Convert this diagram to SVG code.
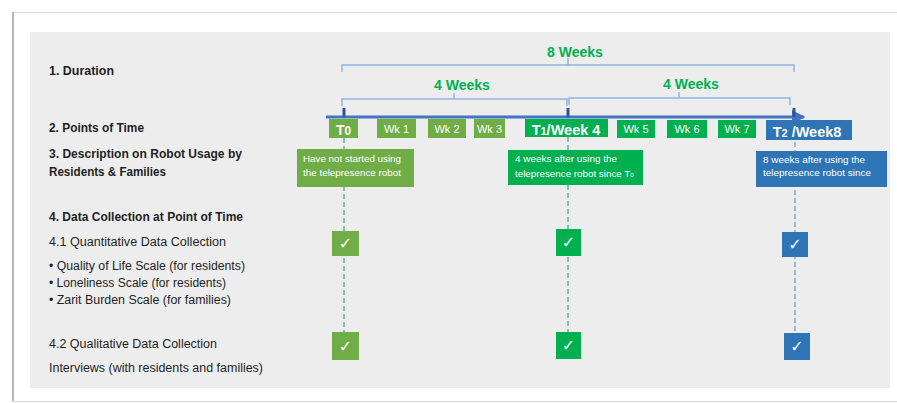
<svg xmlns="http://www.w3.org/2000/svg" width="897" height="403" viewBox="0 0 897 403">
<defs>
<style>
.lbl{font-family:"Liberation Sans",Arial,sans-serif;font-size:12px;fill:#1f1f1f}
.b{font-weight:bold}
.wk{font-family:"Liberation Sans",Arial,sans-serif;font-size:14px;font-weight:bold;fill:#00B050;text-anchor:middle}
.bt{font-family:"Liberation Sans",Arial,sans-serif;fill:#ffffff;text-anchor:middle}
.dt{font-family:"Liberation Sans",Arial,sans-serif;font-size:9.8px;fill:#ffffff}
.ck{font-family:"DejaVu Sans",sans-serif;font-size:16px;fill:#ffffff;text-anchor:middle}
.olive{fill:#70AD47}
.green{fill:#00B050}
.blue{fill:#2E75B6}
.br{fill:none;stroke:#8EB4E3;stroke-width:1.5}
.tick{stroke:#2F5597;stroke-width:3}
.dg{stroke:#3DAF82;stroke-width:1.3;stroke-dasharray:5 3}
.db{stroke:#6B9BD1;stroke-width:1.3;stroke-dasharray:5 3}
</style>
<marker id="arr" viewBox="0 0 10 10" refX="9" refY="5" markerWidth="4.5" markerHeight="4.5" orient="auto" markerUnits="strokeWidth">
<path d="M0,0 L10,5 L0,10 z" fill="#4472C4"/>
</marker>
</defs>

<rect x="0" y="0" width="897" height="403" fill="#ffffff"/>
<rect x="12.5" y="12.5" width="890" height="389" fill="#ffffff" stroke="#d6d6d6"/>
<line x1="13" y1="12" x2="13" y2="401" stroke="#b5b5b5" stroke-width="2"/>
<rect x="30" y="32" width="860" height="356" fill="#EDEDED"/>

<g id="left-labels">
<text class="lbl b" x="49" y="75" textLength="65" lengthAdjust="spacingAndGlyphs">1. Duration</text>
<text class="lbl b" x="49" y="132" textLength="95" lengthAdjust="spacingAndGlyphs">2. Points of Time</text>
<text class="lbl b" x="49" y="158" textLength="193" lengthAdjust="spacingAndGlyphs">3. Description on Robot Usage by</text>
<text class="lbl b" x="49" y="176" textLength="117" lengthAdjust="spacingAndGlyphs">Residents &amp; Families</text>
<text class="lbl b" x="49" y="221" textLength="194" lengthAdjust="spacingAndGlyphs">4. Data Collection at Point of Time</text>
<text class="lbl" x="49" y="246" textLength="177" lengthAdjust="spacingAndGlyphs">4.1 Quantitative Data Collection</text>
<text class="lbl" x="49" y="270" textLength="196" lengthAdjust="spacingAndGlyphs">• Quality of Life Scale (for residents)</text>
<text class="lbl" x="49" y="287" textLength="177" lengthAdjust="spacingAndGlyphs">• Loneliness Scale (for residents)</text>
<text class="lbl" x="49" y="304" textLength="182" lengthAdjust="spacingAndGlyphs">• Zarit Burden Scale (for families)</text>
<text class="lbl" x="49" y="348" textLength="168" lengthAdjust="spacingAndGlyphs">4.2 Qualitative Data Collection</text>
<text class="lbl" x="49" y="372" textLength="214" lengthAdjust="spacingAndGlyphs">Interviews (with residents and families)</text>
</g>

<g id="connectors">
<path class="br" d="M342,72 V65 H794 V72 M568,65 V58"/>
<path class="br" d="M342,106 V99 H567 V106 M454,99 V93"/>
<path class="br" d="M569,105 V98 H790 V105 M679,98 V92"/>
<line class="dg" x1="344" y1="138" x2="344" y2="334"/>
<line class="dg" x1="568" y1="137" x2="568" y2="334"/>
<line class="db" x1="795" y1="118" x2="795" y2="334"/>
<line x1="326" y1="117" x2="804" y2="117" stroke="#4472C4" stroke-width="3" marker-end="url(#arr)"/>
<line class="tick" x1="344" y1="108" x2="344" y2="117"/>
<line class="tick" x1="568" y1="108" x2="568" y2="117"/>
<line class="tick" x1="794" y1="108" x2="794" y2="117"/>
</g>

<g id="duration-labels">
<text class="wk" x="575" y="57">8 Weeks</text>
<text class="wk" x="462" y="90">4 Weeks</text>
<text class="wk" x="691" y="89">4 Weeks</text>
</g>

<g id="t0">
<rect class="olive" x="329" y="119" width="29" height="19"/>
<text class="bt" x="343.5" y="135" font-size="14" font-weight="bold">T<tspan font-size="12">0</tspan></text>
</g>
<g id="wk1"><rect class="olive" x="377" y="119" width="39" height="19"/><text class="bt" x="396.5" y="133" font-size="11">Wk 1</text></g>
<g id="wk2"><rect class="olive" x="428" y="119" width="38" height="19"/><text class="bt" x="447" y="133" font-size="11">Wk 2</text></g>
<g id="wk3"><rect class="olive" x="474" y="119" width="31" height="19"/><text class="bt" x="489.5" y="133" font-size="11">Wk 3</text></g>
<g id="t1">
<rect class="green" x="525" y="119" width="83" height="18"/>
<text class="bt" x="566" y="135" font-size="14.5" font-weight="bold">T<tspan font-size="11">1</tspan>/Week 4</text>
</g>
<g id="wk5"><rect class="green" x="617" y="120" width="38" height="18"/><text class="bt" x="636" y="133" font-size="11">Wk 5</text></g>
<g id="wk6"><rect class="green" x="667" y="120" width="40" height="18"/><text class="bt" x="687" y="133" font-size="11">Wk 6</text></g>
<g id="wk7"><rect class="green" x="718" y="120" width="38" height="18"/><text class="bt" x="737" y="133" font-size="11">Wk 7</text></g>
<g id="t2">
<rect class="blue" x="766" y="120" width="86" height="20"/>
<text class="bt" x="807" y="137" font-size="14.5" font-weight="bold">T<tspan font-size="11">2</tspan> /Week8</text>
</g>

<g id="desc-t0">
<rect class="olive" x="297" y="149" width="117" height="38"/>
<text class="dt" x="303" y="162" textLength="98" lengthAdjust="spacingAndGlyphs">Have not started using</text>
<text class="dt" x="303" y="176" textLength="98" lengthAdjust="spacingAndGlyphs">the telepresence robot</text>
</g>
<g id="desc-t1">
<rect class="green" x="508" y="150" width="135" height="35"/>
<text class="dt" x="515" y="162" textLength="102" lengthAdjust="spacingAndGlyphs">4 weeks after using the</text>
<text class="dt" x="515" y="177">telepresence robot since T<tspan font-size="6">0</tspan></text>
</g>
<g id="desc-t2">
<rect class="blue" x="756" y="151" width="131" height="36"/>
<text class="dt" x="763" y="163" textLength="102" lengthAdjust="spacingAndGlyphs">8 weeks after using the</text>
<text class="dt" x="763" y="176" textLength="108" lengthAdjust="spacingAndGlyphs">telepresence robot since</text>
</g>

<g id="check-t0-quant"><rect class="olive" x="332" y="231" width="27" height="25"/><text class="ck" x="345.5" y="249">✓</text></g>
<g id="check-t1-quant"><rect class="green" x="556" y="229" width="25" height="27"/><text class="ck" x="568.5" y="248">✓</text></g>
<g id="check-t2-quant"><rect class="blue" x="782" y="232" width="26" height="25"/><text class="ck" x="795" y="250">✓</text></g>
<g id="check-t0-qual"><rect class="olive" x="332" y="332" width="27" height="28"/><text class="ck" x="345.5" y="352">✓</text></g>
<g id="check-t1-qual"><rect class="green" x="556" y="332" width="25" height="27"/><text class="ck" x="568.5" y="351">✓</text></g>
<g id="check-t2-qual"><rect class="blue" x="784" y="333" width="26" height="27"/><text class="ck" x="797" y="352">✓</text></g>
</svg>
